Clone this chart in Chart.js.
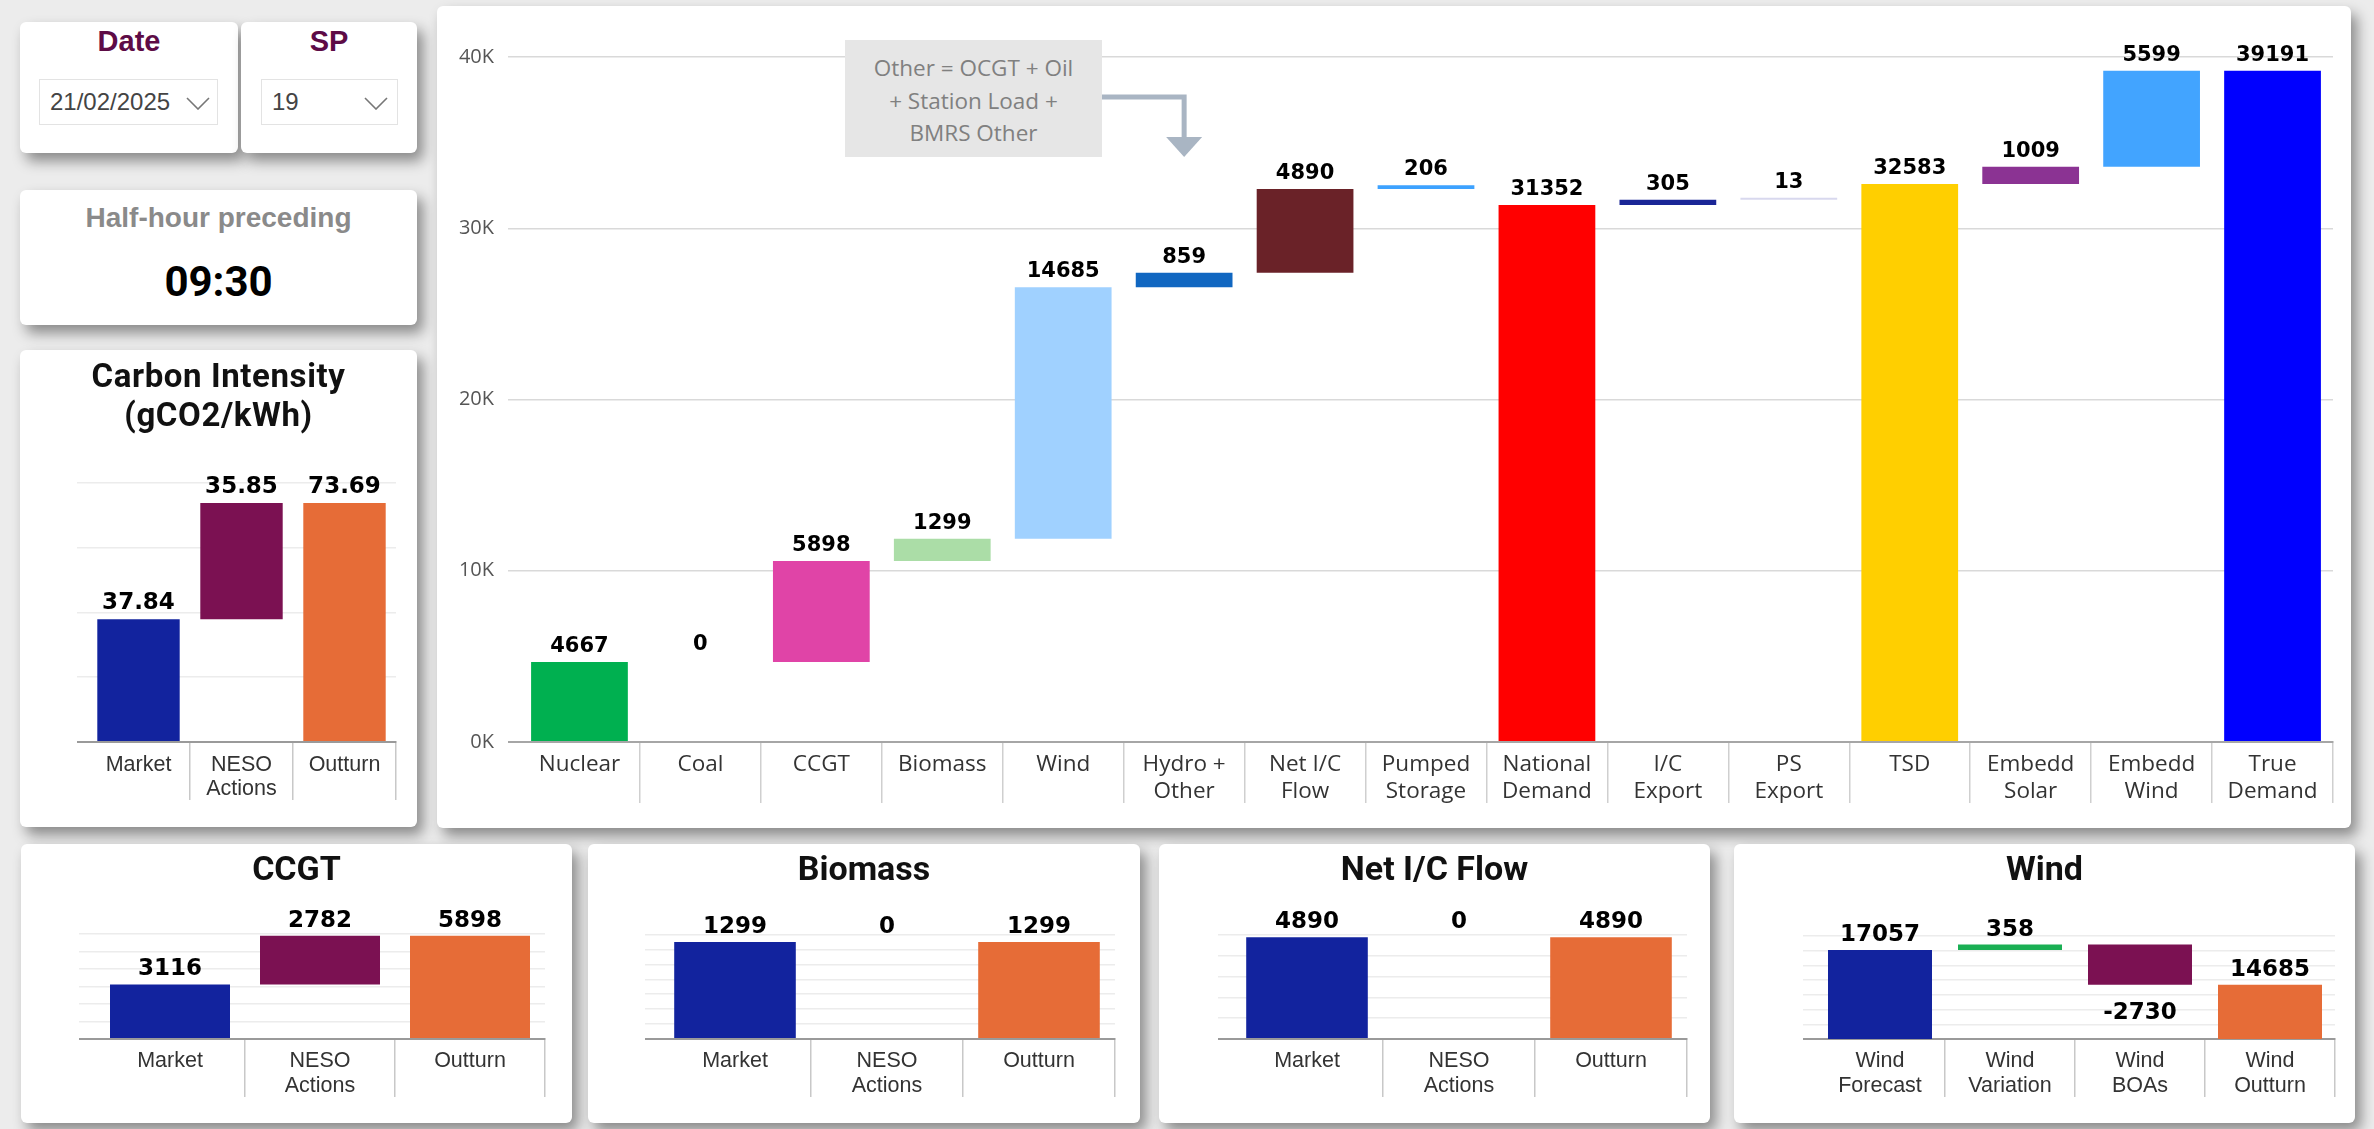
<!DOCTYPE html>
<html>
<head>
<meta charset="utf-8">
<title>Generation mix - SP 19</title>
<script src="https://cdn.jsdelivr.net/npm/chart.js@4.4.1/dist/chart.umd.min.js"></script>
<style>
  html, body { margin: 0; padding: 0; }
  body {
    width: 2374px; height: 1129px; position: relative; overflow: hidden;
    background: #ececec;
    font-family: "Liberation Sans", Arial, sans-serif;
  }
  .card {
    position: absolute; background: #fff; border-radius: 6px;
    box-shadow: 6px 8px 14px rgba(0, 0, 0, 0.42);
  }
  .card canvas { position: absolute; left: 0; top: 0; }
  .slicer-title {
    position: absolute; left: 0; right: 0; top: 2px; text-align: center;
    font-weight: bold; font-size: 29px; line-height: 34px; color: #5d0b46;
  }
  .dropdown {
    position: absolute; top: 57px; height: 46px; box-sizing: border-box;
    border: 1px solid #e3e3e3; font-size: 24px; line-height: 44px; color: #444;
  }
  .dropdown span { position: absolute; left: 10px; }
  .dropdown svg { position: absolute; top: 17px; }
  .title {
    position: absolute; left: 0; right: 0; text-align: center;
    font-family: Roboto, sans-serif; font-weight: 700; color: #111;
  }
  .note {
    position: absolute; left: 408px; top: 34px; width: 257px; height: 117px;
    box-sizing: border-box; padding-top: 12px; background: #e6e6e6;
    font-family: "Open Sans", sans-serif; font-size: 22.5px; line-height: 32.5px;
    color: #808080; text-align: center; white-space: nowrap;
  }
</style>
</head>
<body>

<div class="card" style="left:20px; top:22px; width:218px; height:131px;">
  <div class="slicer-title">Date</div>
  <div class="dropdown" style="left:19px; width:179px;">
    <span>21/02/2025</span>
    <svg style="left:146px" width="24" height="13"><polyline points="1,1 12,12 23,1" fill="none" stroke="#777" stroke-width="1.6"/></svg>
  </div>
</div>

<div class="card" style="left:241px; top:22px; width:176px; height:131px;">
  <div class="slicer-title">SP</div>
  <div class="dropdown" style="left:20px; width:137px;">
    <span>19</span>
    <svg style="left:102px" width="24" height="13"><polyline points="1,1 12,12 23,1" fill="none" stroke="#777" stroke-width="1.6"/></svg>
  </div>
</div>

<div class="card" style="left:20px; top:190px; width:397px; height:135px;">
  <div style="position:absolute; left:0; right:0; top:12px; text-align:center; font-weight:bold; font-size:28px; line-height:32px; color:#8a8a8a;">Half-hour preceding</div>
  <div class="title" style="top:67px; font-size:42px; line-height:50px; color:#000;">09:30</div>
</div>

<div class="card" style="left:20px; top:350px; width:397px; height:477px;">
  <canvas id="carbonChart" width="397" height="477"></canvas>
  <div class="title" style="top:6px; font-size:33px; line-height:39px; letter-spacing:0.6px;">Carbon Intensity<br>(gCO2/kWh)</div>
</div>

<div class="card" style="left:437px; top:6px; width:1914px; height:822px;">
  <canvas id="mixChart" width="1914" height="822"></canvas>
  <div class="note">Other = OCGT + Oil<br>+ Station Load +<br>BMRS Other</div>
</div>

<div class="card" style="left:21px; top:844px; width:551px; height:279px;">
  <canvas id="ccgtChart" width="551" height="279"></canvas>
  <div class="title" style="top:4px; font-size:34px; line-height:40px;">CCGT</div>
</div>

<div class="card" style="left:588px; top:844px; width:552px; height:279px;">
  <canvas id="biomassChart" width="552" height="279"></canvas>
  <div class="title" style="top:4px; font-size:34px; line-height:40px;">Biomass</div>
</div>

<div class="card" style="left:1159px; top:844px; width:551px; height:279px;">
  <canvas id="icChart" width="551" height="279"></canvas>
  <div class="title" style="top:4px; font-size:34px; line-height:40px;">Net I/C Flow</div>
</div>

<div class="card" style="left:1734px; top:844px; width:621px; height:279px;">
  <canvas id="windChart" width="621" height="279"></canvas>
  <div class="title" style="top:4px; font-size:34px; line-height:40px;">Wind</div>
</div>

<script>
// Generation mix (MW) for the settlement period
const mixLabels = [['Nuclear'], ['Coal'], ['CCGT'], ['Biomass'], ['Wind'], ['Hydro +', 'Other'],
  ['Net I/C', 'Flow'], ['Pumped', 'Storage'], ['National', 'Demand'], ['I/C', 'Export'],
  ['PS', 'Export'], ['TSD'], ['Embedd', 'Solar'], ['Embedd', 'Wind'], ['True', 'Demand']];
const mixValues = [4667, 0, 5898, 1299, 14685, 859, 4890, 206, 31352, 305, 13, 32583, 1009, 5599, 39191];
// columns that restart the running total from zero
const mixTotals = [false, false, false, false, false, false, false, false, true, false, false, true, false, false, true];
const mixColors = ['#00b050', 'rgba(0,0,0,0)', '#e044a7', '#abdda7', '#a0d1ff', '#1167c1', '#6a2228',
  '#3da2ff', '#ff0000', '#1a2696', '#d8d8ee', '#ffcf00', '#8b3393', '#42a4ff', '#0000ff'];
const mixTickValues = [0, 10000, 20000, 30000, 40000];
const mixTickLabels = ['0K', '10K', '20K', '30K', '40K'];

// Market -> NESO actions -> outturn breakdowns
const stepLabels = ['Market', ['NESO', 'Actions'], 'Outturn'];
const stepTotals = [true, false, true];
const stepColors = ['#12239e', '#7b1152', '#e66c37'];
const carbonValues = [37.84, 35.85, 73.69];
const ccgtValues = [3116, 2782, 5898];
const biomassValues = [1299, 0, 1299];
const icFlowValues = [4890, 0, 4890];

const windLabels = [['Wind', 'Forecast'], ['Wind', 'Variation'], ['Wind', 'BOAs'], ['Wind', 'Outturn']];
const windValues = [17057, 358, -2730, 14685];
const windTotals = [true, false, false, true];
const windColors = ['#12239e', '#1aaf54', '#7b1152', '#e66c37'];

// turn step values into floating [start, end] bars
function waterfall(values, totals) {
  let running = 0;
  return values.map((v, i) => {
    if (totals[i]) { running = v; return [0, v]; }
    const start = running;
    running += v;
    return [start, running];
  });
}

// value text above each bar (below it for negative steps)
const valueLabels = {
  id: 'valueLabels',
  afterDatasetsDraw(chart, args, opts) {
    const ctx = chart.ctx;
    const bars = chart.getDatasetMeta(0).data;
    ctx.save();
    ctx.font = opts.font;
    ctx.fillStyle = '#000';
    ctx.textAlign = 'center';
    ctx.textBaseline = 'alphabetic';
    bars.forEach((bar, i) => {
      const v = opts.values[i];
      const text = opts.decimals ? v.toFixed(opts.decimals) : String(v);
      const top = Math.min(bar.y, bar.base);
      const bottom = Math.max(bar.y, bar.base);
      if (v < 0) ctx.fillText(text, bar.x, bottom + opts.below);
      else ctx.fillText(text, bar.x, top - opts.gap);
    });
    ctx.restore();
  }
};

// elbow arrow from the note down to the Hydro + Other column
const noteArrow = {
  id: 'noteArrow',
  beforeDatasetsDraw(chart) {
    const ctx = chart.ctx;
    const ax = chart.scales.x.getPixelForValue(5);
    ctx.save();
    ctx.strokeStyle = '#a9b5c3';
    ctx.fillStyle = '#a9b5c3';
    ctx.lineWidth = 5;
    ctx.beginPath();
    ctx.moveTo(665, 91);
    ctx.lineTo(ax, 91);
    ctx.lineTo(ax, 133);
    ctx.stroke();
    ctx.beginPath();
    ctx.moveTo(ax - 18, 131);
    ctx.lineTo(ax + 18, 131);
    ctx.lineTo(ax, 151);
    ctx.closePath();
    ctx.fill();
    ctx.restore();
  }
};

new Chart(document.getElementById('mixChart'), {
  type: 'bar',
  data: {
    labels: mixLabels,
    datasets: [{
      data: waterfall(mixValues, mixTotals),
      backgroundColor: mixColors,
      borderWidth: 0,
      minBarLength: 2,
      categoryPercentage: 1,
      barPercentage: 0.8,
      clip: 0
    }]
  },
  options: {
    responsive: false,
    animation: false,
    layout: { padding: { left: 0, right: 18, top: 51, bottom: 0 } },
    plugins: {
      legend: { display: false },
      tooltip: { enabled: false },
      valueLabels: { values: mixValues, font: 'bold 21px "DejaVu Sans"', gap: 10, below: 30 }
    },
    scales: {
      x: {
        grid: {
          offset: true,
          drawOnChartArea: false,
          tickLength: 61,
          lineWidth: 1.5,
          color: c => (c.index === 0 || c.index === mixLabels.length) ? 'rgba(0,0,0,0)' : '#cfcfcf'
        },
        border: { color: '#a6a6a6', width: 2 },
        ticks: {
          padding: -51.5,
          color: '#333',
          font: { family: '"Open Sans", sans-serif', size: 22.5, lineHeight: 1.2 },
          maxRotation: 0,
          autoSkip: false
        },
        afterFit: s => { s.height = 86; }
      },
      y: {
        min: 0,
        max: 40000,
        afterBuildTicks: s => { s.ticks = mixTickValues.map(v => ({ value: v })); },
        ticks: {
          callback: (v, i) => mixTickLabels[i],
          padding: 14,
          color: '#555',
          font: { family: '"Open Sans", sans-serif', size: 20 }
        },
        grid: {
          color: c => (c.tick && c.tick.value === 0) ? '#a6a6a6' : '#d9d9d9',
          lineWidth: c => (c.tick && c.tick.value === 0) ? 2 : 1.5,
          tickLength: 11
        },
        border: { display: false },
        afterFit: s => { s.width = 82; }
      }
    }
  },
  plugins: [valueLabels, noteArrow]
});

function stepChart(id, labels, values, totals, colors, axis, pad, tickPadding, lineHeight, labelGap, decimals) {
  const n = labels.length;
  return new Chart(document.getElementById(id), {
    type: 'bar',
    data: {
      labels: labels,
      datasets: [{
        data: waterfall(values, totals),
        backgroundColor: colors,
        borderWidth: 0,
        categoryPercentage: 1,
        barPercentage: 0.8,
        clip: 0
      }]
    },
    options: {
      responsive: false,
      animation: false,
      layout: { padding: pad },
      plugins: {
        legend: { display: false },
        tooltip: { enabled: false },
        valueLabels: { values: values, font: 'bold 23px "DejaVu Sans"', gap: labelGap, below: 34, decimals: decimals }
      },
      scales: {
        x: {
          grid: {
            offset: true,
            drawOnChartArea: false,
            tickLength: 58,
            lineWidth: 1.5,
            color: c => (c.index === 0 || c.index === n) ? 'rgba(0,0,0,0)' : '#c8c8c8'
          },
          border: { color: '#9a9a9a', width: 2 },
          ticks: {
            padding: tickPadding,
            color: '#333',
            font: { family: '"Liberation Sans", Arial, sans-serif', size: 21.5, lineHeight: lineHeight },
            maxRotation: 0,
            autoSkip: false
          },
          afterFit: s => { s.height = 70; }
        },
        y: {
          min: axis.min,
          max: axis.max,
          ticks: { stepSize: axis.step, display: false },
          grid: {
            color: c => (c.tick && c.tick.value === axis.min) ? '#9a9a9a' : '#ececec',
            lineWidth: c => (c.tick && c.tick.value === axis.min) ? 2 : 1.5,
            tickLength: axis.ext
          },
          border: { display: false },
          afterFit: s => { s.width = axis.ext; }
        }
      }
    },
    plugins: [valueLabels]
  });
}

stepChart('carbonChart', stepLabels, carbonValues, stepTotals, stepColors,
  { min: 0, max: 80, step: 20, ext: 10 },
  { left: 57, right: 21, top: 132.6, bottom: 15 }, -47, 1.116, 10, 2);

stepChart('ccgtChart', stepLabels, ccgtValues, stepTotals, stepColors,
  { min: 0, max: 6000, step: 1000, ext: 16 },
  { left: 58, right: 27, top: 90, bottom: 14 }, -48.5, 1.163, 9, 0);

stepChart('biomassChart', stepLabels, biomassValues, stepTotals, stepColors,
  { min: 0, max: 1400, step: 200, ext: 14 },
  { left: 57, right: 25, top: 90.5, bottom: 14 }, -48.5, 1.163, 9, 0);

stepChart('icChart', stepLabels, icFlowValues, stepTotals, stepColors,
  { min: 0, max: 5000, step: 1000, ext: 13 },
  { left: 59, right: 23, top: 91, bottom: 14 }, -48.5, 1.163, 9, 0);

stepChart('windChart', windLabels, windValues, windTotals, windColors,
  { min: 11000, max: 18000, step: 1000, ext: 12 },
  { left: 69, right: 20, top: 92, bottom: 14 }, -48.5, 1.163, 9, 0);
</script>
</body>
</html>
